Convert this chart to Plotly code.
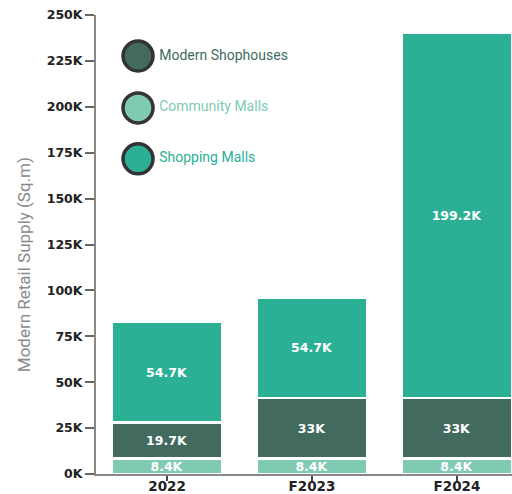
import plotly.graph_objects as go

categories = ["2022", "F2023", "F2024"]
community_malls = [8.4, 8.4, 8.4]
modern_shophouses = [19.7, 33, 33]
shopping_malls = [54.7, 54.7, 199.2]
y_ticks = [0, 25, 50, 75, 100, 125, 150, 175, 200, 225, 250]

legend_names = ["Modern Shophouses", "Community Malls", "Shopping Malls"]
colors = {"Modern Shophouses": "#436A5F", "Community Malls": "#80C9B3", "Shopping Malls": "#2BAF95"}

BOLD = "DejaVu Sans"

def fmt(v):
    return f"{v:g}K"

fig = go.Figure()
for name, vals in [("Community Malls", community_malls),
                   ("Modern Shophouses", modern_shophouses),
                   ("Shopping Malls", shopping_malls)]:
    fig.add_trace(go.Bar(
        x=categories, y=[v * 1000 for v in vals], name=name,
        marker=dict(color=colors[name], line=dict(color="white", width=2.5)),
        text=[fmt(v) for v in vals], textposition="inside", insidetextanchor="middle",
        constraintext="none",
        textfont=dict(family=BOLD, size=12.5, color="white", weight="bold"),
        width=0.76, showlegend=False, hoverinfo="skip",
    ))

# legend drawn as scatter traces on hidden overlay axes
leg_y = [0.9106, 0.7976, 0.6866]
fig.add_trace(go.Scatter(
    x=[0.101] * 3, y=leg_y, xaxis="x2", yaxis="y2", mode="markers",
    marker=dict(size=30, color=[colors[n] for n in legend_names],
                line=dict(color="#333333", width=3.5)),
    cliponaxis=False, showlegend=False, hoverinfo="skip",
))
fig.add_trace(go.Scatter(
    x=[0.152] * 3, y=leg_y, xaxis="x2", yaxis="y2",
    mode="text", text=legend_names, textposition="middle right",
    textfont=dict(family="Roboto", size=14, color=[colors[n] for n in legend_names]),
    cliponaxis=False, showlegend=False, hoverinfo="skip",
))

fig.update_layout(
    barmode="stack",
    width=512, height=494,
    margin=dict(l=96, r=0, t=15, b=20),
    plot_bgcolor="white", paper_bgcolor="white",
    xaxis=dict(
        range=[-0.49, 2.38], showline=True, linecolor="#888", linewidth=2,
        ticks="outside", ticklen=5, tickcolor="#444", tickwidth=1.5,
        ticklabelstandoff=-6,
        tickfont=dict(family=BOLD, size=13.5, color="#222", weight="bold"),
        showgrid=False, automargin=False, fixedrange=True,
    ),
    yaxis=dict(
        range=[0, 250000], tickvals=[t * 1000 for t in y_ticks],
        ticktext=[f"{t}K" for t in y_ticks],
        showline=True, linecolor="#888", linewidth=2,
        ticks="outside", ticklen=9, tickcolor="#666", tickwidth=1.5,
        tickfont=dict(family=BOLD, size=12.5, color="#222", weight="bold"),
        showgrid=False, zeroline=False, automargin=False,
    ),
    xaxis2=dict(overlaying="x", range=[0, 1], visible=False, fixedrange=True),
    yaxis2=dict(overlaying="y", range=[0, 1], visible=False, fixedrange=True),
    annotations=[dict(
        text="Modern Retail Supply (Sq.m)", textangle=-90,
        xref="paper", yref="paper", x=-0.173, y=0.455,
        xanchor="center", yanchor="middle", showarrow=False,
        font=dict(family="Roboto", size=17, color="#8a8a8a"),
    )],
)

fig.write_html("out.html")
